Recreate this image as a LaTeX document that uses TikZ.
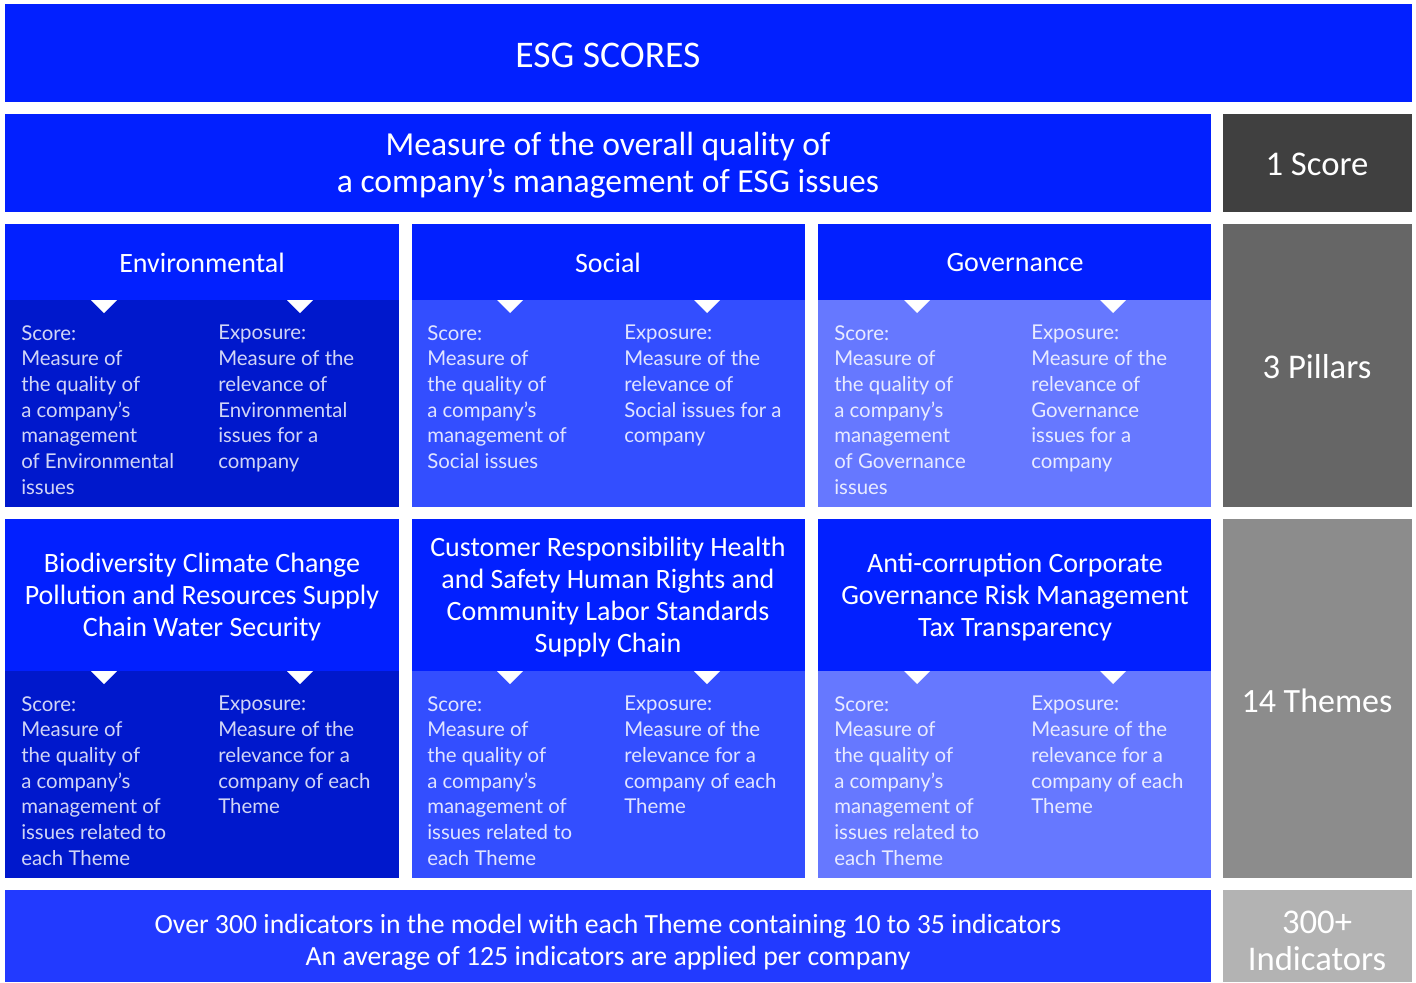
\documentclass[tikz,border=0pt]{standalone}
\usepackage{fontspec}
\setmainfont{Lato}
\newfontfamily\titlefont{Carlito}
\definecolor{bluemain}{RGB}{2,32,255}
\definecolor{envlow}{RGB}{0,24,204}
\definecolor{soclow}{RGB}{51,78,255}
\definecolor{govlow}{RGB}{102,120,255}
\definecolor{botblue}{RGB}{34,58,255}
\definecolor{grayA}{RGB}{64,64,64}
\definecolor{grayB}{RGB}{102,102,102}
\definecolor{grayC}{RGB}{140,140,140}
\definecolor{grayD}{RGB}{179,179,179}
\tikzset{
  ttl/.style={text=white, align=center, inner sep=0pt, font=\titlefont},
  body/.style={anchor=north west, align=left, inner sep=0pt, font=\fontsize{15.3}{19.3}\selectfont},
  tri/.style={fill=white},
}
\newcommand{\downtri}[2]{\fill[tri] (#1-13,#2) -- (#1+13,#2) -- (#1,#2+13) -- cycle;}
\begin{document}
\begin{tikzpicture}[x=0.75pt,y=-0.75pt]
\useasboundingbox[fill=white] (0,0) rectangle (1416,982);
% row 1
\fill[bluemain] (5,4) rectangle (1412,102);
\node[ttl, font=\titlefont\fontsize{28.2}{30}\selectfont] (esg) at (608,55) {ESG SCORES};
% row 2
\fill[bluemain] (5,114) rectangle (1211,212);
\fill[grayA] (1223,114) rectangle (1412,212);
\node[ttl, font=\titlefont\fontsize{25.2}{27.5}\selectfont] (overall) at (608,165) {Measure of the overall quality of\\a company’s management of ESG issues};
\node[ttl, font=\titlefont\fontsize{26}{30}\selectfont] (score) at (1317,164) {1 Score};
% row 3
\fill[envlow] (5,224) rectangle (399,507);
\fill[bluemain] (5,224) rectangle (399,300);
\fill[soclow] (412,224) rectangle (805,507);
\fill[bluemain] (412,224) rectangle (805,300);
\fill[govlow] (818,224) rectangle (1211,507);
\fill[bluemain] (818,224) rectangle (1211,300);
\fill[grayB] (1223,224) rectangle (1412,507);
\downtri{104}{300}\downtri{300}{300}
\downtri{510}{300}\downtri{707}{300}
\downtri{917}{300}\downtri{1113}{300}
\node[ttl, font=\titlefont\fontsize{21}{24}\selectfont] (env) at (202,263) {Environmental};
\node[ttl, font=\titlefont\fontsize{21}{24}\selectfont] (soc) at (608,263) {Social};
\node[ttl, font=\titlefont\fontsize{21}{24}\selectfont] (gov) at (1015,263) {Governance};
\node[ttl, font=\titlefont\fontsize{26}{30}\selectfont] (pillars) at (1317,367) {3 Pillars};
\node[body, text=white!82!envlow] (envs) at (21,325) {Score:\\Measure of\\the quality of\\a company’s\\management\\of Environmental\\issues};
\node[body, text=white!82!envlow] (enve) at (218,325) {Exposure:\\Measure of the\\relevance of\\Environmental\\issues for a\\company};
\node[body, text=white!85!soclow] (socs) at (427,325) {Score:\\Measure of\\the quality of\\a company’s\\management of\\Social issues};
\node[body, text=white!85!soclow] (soce) at (624,325) {Exposure:\\Measure of the\\relevance of\\Social issues for a\\company};
\node[body, text=white!85!govlow] (govs) at (834,325) {Score:\\Measure of\\the quality of\\a company’s\\management\\of Governance\\issues};
\node[body, text=white!85!govlow] (gove) at (1031,325) {Exposure:\\Measure of the\\relevance of\\Governance\\issues for a\\company};
% row 4
\fill[envlow] (5,519) rectangle (399,878);
\fill[bluemain] (5,519) rectangle (399,671);
\fill[soclow] (412,519) rectangle (805,878);
\fill[bluemain] (412,519) rectangle (805,671);
\fill[govlow] (818,519) rectangle (1211,878);
\fill[bluemain] (818,519) rectangle (1211,671);
\fill[grayC] (1223,519) rectangle (1412,878);
\downtri{104}{671}\downtri{300}{671}
\downtri{510}{671}\downtri{707}{671}
\downtri{917}{671}\downtri{1113}{671}
\node[ttl, font=\titlefont\fontsize{21}{24}\selectfont] (envt) at (202,597) {Biodiversity Climate Change\\Pollution and Resources Supply\\Chain Water Security};
\node[ttl, font=\titlefont\fontsize{21}{24}\selectfont] (soct) at (608,597) {Customer Responsibility Health\\and Safety Human Rights and\\Community Labor Standards\\Supply Chain};
\node[ttl, font=\titlefont\fontsize{21}{24}\selectfont] (govt) at (1015,597) {Anti-corruption Corporate\\Governance Risk Management\\Tax Transparency};
\node[ttl, font=\titlefont\fontsize{25.5}{30}\selectfont] (themes) at (1317,701) {14 Themes};
\node[body, text=white!82!envlow] (envs2) at (21,696) {Score:\\Measure of\\the quality of\\a company’s\\management of\\issues related to\\each Theme};
\node[body, text=white!82!envlow] (enve2) at (218,696) {Exposure:\\Measure of the\\relevance for a\\company of each\\Theme};
\node[body, text=white!85!soclow] (socs2) at (427,696) {Score:\\Measure of\\the quality of\\a company’s\\management of\\issues related to\\each Theme};
\node[body, text=white!85!soclow] (soce2) at (624,696) {Exposure:\\Measure of the\\relevance for a\\company of each\\Theme};
\node[body, text=white!85!govlow] (govs2) at (834,696) {Score:\\Measure of\\the quality of\\a company’s\\management of\\issues related to\\each Theme};
\node[body, text=white!85!govlow] (gove2) at (1031,696) {Exposure:\\Measure of the\\relevance for a\\company of each\\Theme};
% row 5
\fill[botblue] (5,890) rectangle (1211,982);
\fill[grayD] (1223,890) rectangle (1412,982);
\node[ttl, font=\titlefont\fontsize{20.8}{24}\selectfont] (indic) at (608,942) {Over 300 indicators in the model with each Theme containing 10 to 35 indicators\\An average of 125 indicators are applied per company};
\node[ttl, font=\titlefont\fontsize{26}{27.75}\selectfont] (plus) at (1317,941) {300+\\Indicators};
\end{tikzpicture}
\end{document}
